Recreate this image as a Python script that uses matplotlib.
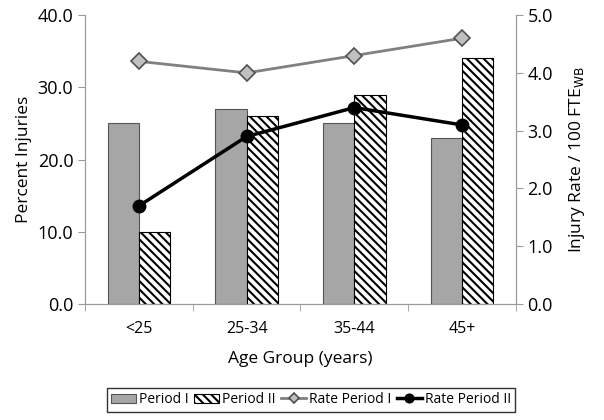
import matplotlib
matplotlib.use('Agg')
import matplotlib.pyplot as plt
import numpy as np

plt.rcParams['font.family'] = ['Open Sans', 'DejaVu Sans']
plt.rcParams['hatch.linewidth'] = 1.5

groups = ['<25', '25-34', '35-44', '45+']
period1 = [25, 27, 25, 23]
period2 = [10, 26, 29, 34]
rate1 = [4.2, 4.0, 4.3, 4.6]
rate2 = [1.7, 2.9, 3.4, 3.1]

fig = plt.figure(figsize=(6.04, 4.2), dpi=100)
ax = fig.add_axes([0.141, 0.276, 0.713, 0.688])
ax2 = ax.twinx()

x = np.arange(len(groups))
w = 0.29
ax.bar(x - w/2, period1, w, color='#a6a6a6', edgecolor='#555555', lw=0.8, label='Period I')
ax.bar(x + w/2, period2, w, color='white', edgecolor='black', hatch='\\\\\\\\', lw=0.8, label='Period II')

ax2.plot(x, rate1, '-D', color='#808080', lw=2, ms=8, mfc='#c0c0c0', mec='#505050', mew=1.2, label='Rate Period I')
ax2.plot(x, rate2, '-o', color='black', lw=2.5, ms=9, label='Rate Period II')

ax.set_xlim(-0.5, 3.5)
ax.set_ylim(0, 40)
ax2.set_ylim(0, 5)
ax.set_yticks(np.arange(0, 41, 10))
ax.set_yticklabels(['%.1f' % v for v in np.arange(0, 41, 10)], fontsize=13)
ax2.set_yticks(np.arange(0, 5.1, 1))
ax2.set_yticklabels(['%.1f' % v for v in np.arange(0, 5.1, 1)], fontsize=13)
ax.set_xticks(x)
ax.set_xticklabels(groups, fontsize=11.5)
ax.set_xticks(np.arange(-0.5, 3.6, 1), minor=True)
ax.tick_params(axis='x', which='major', length=0, pad=12)
ax.tick_params(axis='x', which='minor', length=5, color='#999999')
ax.tick_params(axis='y', length=5, color='#999999')
ax2.tick_params(axis='y', length=5, color='#999999')

for a in (ax, ax2):
    a.spines['top'].set_visible(False)
    for s in ('left', 'right', 'bottom'):
        a.spines[s].set_color('#999999')

ax.set_ylabel('Percent Injuries', fontsize=12.5)
ax2.set_ylabel('Injury Rate / 100 FTE$_{\\mathrm{WB}}$', fontsize=12.5, labelpad=10)
ax.set_xlabel('Age Group (years)', fontsize=12.5, labelpad=10)

h1, l1 = ax.get_legend_handles_labels()
h2, l2 = ax2.get_legend_handles_labels()
leg = fig.legend(h1 + h2, l1 + l2, loc='center', bbox_to_anchor=(0.515, 0.048), ncol=4,
                 fontsize=10, frameon=True, fancybox=False, edgecolor='black',
                 handlelength=1.8, handletextpad=0.2, columnspacing=0.4, borderpad=0.3,
                 markerscale=0.7)
leg.get_frame().set_linewidth(1)

fig.savefig('out.png', dpi=100)
